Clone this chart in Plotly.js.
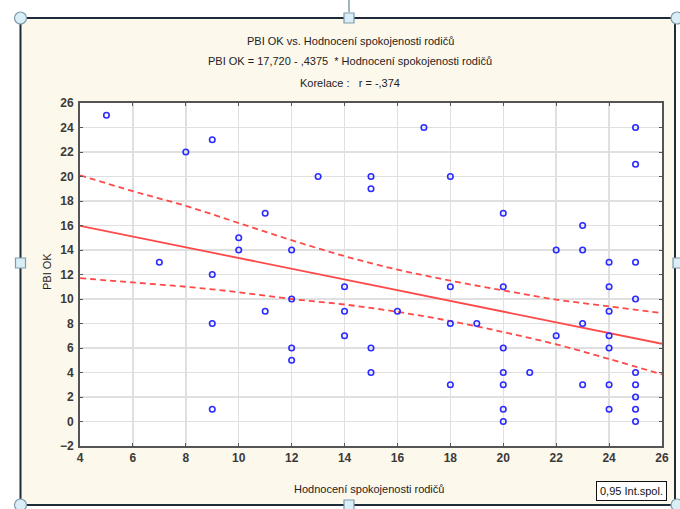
<!DOCTYPE html>
<html>
<head>
<meta charset="utf-8">
<script src="https://cdn.plot.ly/plotly-3.0.1.min.js"></script>
<style>
html,body{margin:0;padding:0;background:#ffffff;}
#chart{width:680px;height:509px;}
</style>
</head>
<body>
<div id="chart"></div>
<script>
// ---- data ----
const xValues = [5,7,8,9,9,9,9,10,10,11,11,12,12,12,12,13,14,14,14,15,15,15,15,16,17,18,18,18,18,19,20,20,20,20,20,20,20,21,22,22,23,23,23,23,24,24,24,24,24,24,24,25,25,25,25,25,25,25,25,25];
const yValues = [25,13,22,23,12,8,1,15,14,17,9,14,10,6,5,20,11,9,7,20,19,6,4,9,24,20,11,8,3,8,17,11,6,4,3,1,0,4,14,7,16,14,8,3,13,11,9,7,6,3,1,24,21,13,10,4,3,2,1,0];
const intercept = 17.720;
const slope = -0.4375;
const fitX = [4, 26];
const bandX = [4,6,8,10,12,14,16,18,20,22,24,26];
const bandUpper = [20.1,18.8,17.6,16.2,14.8,13.5,12.4,11.5,10.7,9.95,9.4,8.85];
const bandLower = [11.7,11.35,11.0,10.55,10.0,9.55,8.95,8.2,7.3,6.3,5.1,3.85];
const titleLines = ["PBI OK vs. Hodnocení spokojenosti rodičů",
  "PBI OK = 17,720 - ,4375 \u00a0* Hodnocení spokojenosti rodičů",
  "Korelace : \u00a0 r = -,374"];
const xTitle = "Hodnocení spokojenosti rodičů";
const yTitle = "PBI OK";
const legendText = "0,95 Int.spol.";

// ---- layout geometry ----
const W = 680, H = 509;
const M = {l:80, r:18, t:103, b:63};
const pw = W - M.l - M.r, ph = H - M.t - M.b;
const px = v => (v - M.l) / pw;
const py = v => (H - M.b - v) / ph;

const fitY = fitX.map(x => intercept + slope * x);
const red = '#ff4a4a';

const traces = [
  {x: bandX, y: bandUpper, type:'scatter', mode:'lines', line:{color:red, width:1.8, dash:'6px,4px', shape:'spline'}, hoverinfo:'skip'},
  {x: bandX, y: bandLower, type:'scatter', mode:'lines', line:{color:red, width:1.8, dash:'6px,4px', shape:'spline'}, hoverinfo:'skip'},
  {x: fitX, y: fitY, type:'scatter', mode:'lines', line:{color:red, width:1.8}},
  {x: xValues, y: yValues, type:'scatter', mode:'markers',
   marker:{symbol:'circle-open', size:5.5, color:'#2b2bff', line:{width:1.6, color:'#2b2bff'}}}
];

const cream = '#fdf8ec';
const handleFill = '#d9eef6', handleLine = '#7f9cab';
const shapes = [
  {type:'rect', xref:'paper', yref:'paper', x0:px(0), x1:px(W), y0:py(0), y1:py(17), fillcolor:'#fff', line:{width:0}, layer:'below'},
  {type:'rect', xref:'paper', yref:'paper', x0:px(0), x1:px(W), y0:py(506), y1:py(H), fillcolor:'#fff', line:{width:0}, layer:'below'},
  {type:'rect', xref:'paper', yref:'paper', x0:px(0), x1:px(19), y0:py(0), y1:py(H), fillcolor:'#fff', line:{width:0}, layer:'below'},
  {type:'rect', xref:'paper', yref:'paper', x0:px(676), x1:px(W), y0:py(0), y1:py(H), fillcolor:'#fff', line:{width:0}, layer:'below'},
  {type:'rect', xref:'paper', yref:'paper', x0:px(20.5), x1:px(675), y0:py(18), y1:py(505), line:{color:'#1e2c3a', width:2}, fillcolor:'rgba(0,0,0,0)', layer:'above'},
  {type:'line', xref:'paper', yref:'paper', x0:px(349), x1:px(349), y0:py(0), y1:py(12), line:{color:handleLine, width:1.5}, layer:'above'}
];
const circ = [[20.5,18],[677,18],[20.5,505],[677,505]];
circ.forEach(c => shapes.push({type:'circle', xref:'paper', yref:'paper', x0:px(c[0]-6), x1:px(c[0]+6), y0:py(c[1]-6), y1:py(c[1]+6), fillcolor:handleFill, line:{color:handleLine, width:1.2}, layer:'above'}));
const sq = [[349,18],[20.5,263],[349,505],[678,263]];
sq.forEach(c => shapes.push({type:'rect', xref:'paper', yref:'paper', x0:px(c[0]-5), x1:px(c[0]+5), y0:py(c[1]-5), y1:py(c[1]+5), fillcolor:handleFill, line:{color:handleLine, width:1.2}, layer:'above'}));

const tfont = {family:'Arial, Liberation Sans, sans-serif', size:11, color:'#222'};
const annotations = [
  {text:titleLines[0], x:px(350), y:py(41), xref:'paper', yref:'paper', showarrow:false, font:tfont, xanchor:'center', yanchor:'middle'},
  {text:titleLines[1], x:px(350), y:py(61), xref:'paper', yref:'paper', showarrow:false, font:tfont, xanchor:'center', yanchor:'middle'},
  {text:titleLines[2], x:px(350), y:py(83), xref:'paper', yref:'paper', showarrow:false, font:tfont, xanchor:'center', yanchor:'middle'},
  {text:xTitle, x:px(369), y:py(489), xref:'paper', yref:'paper', showarrow:false, font:tfont, xanchor:'center', yanchor:'middle'},
  {text:yTitle, x:px(47), y:py(272), xref:'paper', yref:'paper', showarrow:false, font:tfont, textangle:-90, xanchor:'center', yanchor:'middle'},
  {text:legendText, x:px(631), y:py(491), xref:'paper', yref:'paper', showarrow:false, font:{family:'Arial, Liberation Sans, sans-serif', size:11, color:'#111'}, xanchor:'center', yanchor:'middle', bordercolor:'#111', borderwidth:1, borderpad:3, bgcolor:'#ffffff'}
];

const axFont = {family:'Arial, Liberation Sans, sans-serif', size:12, color:'#3a3a3a', weight:'bold'};
const layout = {
  width: W, height: H,
  margin: M,
  paper_bgcolor: cream,
  plot_bgcolor: '#ffffff',
  showlegend: false,
  separators: '.,',
  xaxis: {range:[4,26], dtick:2, tick0:4, showgrid:true, gridcolor:'#e0e0e0', gridwidth:1.5,
          showline:true, linecolor:'#555', linewidth:2, mirror:'ticks', ticks:'inside', ticklen:3, tickcolor:'#555',
          zeroline:false, tickfont:axFont, fixedrange:true},
  yaxis: {range:[-2,26], dtick:2, tick0:0, showgrid:true, gridcolor:'#e0e0e0', gridwidth:1.5,
          showline:true, linecolor:'#555', linewidth:2, mirror:'ticks', ticks:'inside', ticklen:3, tickcolor:'#555',
          zeroline:false, tickfont:axFont, fixedrange:true, ticklabelstandoff:2},
  shapes: shapes,
  annotations: annotations
};

Plotly.newPlot('chart', traces, layout, {displayModeBar:false, staticPlot:true});
</script>
</body>
</html>
